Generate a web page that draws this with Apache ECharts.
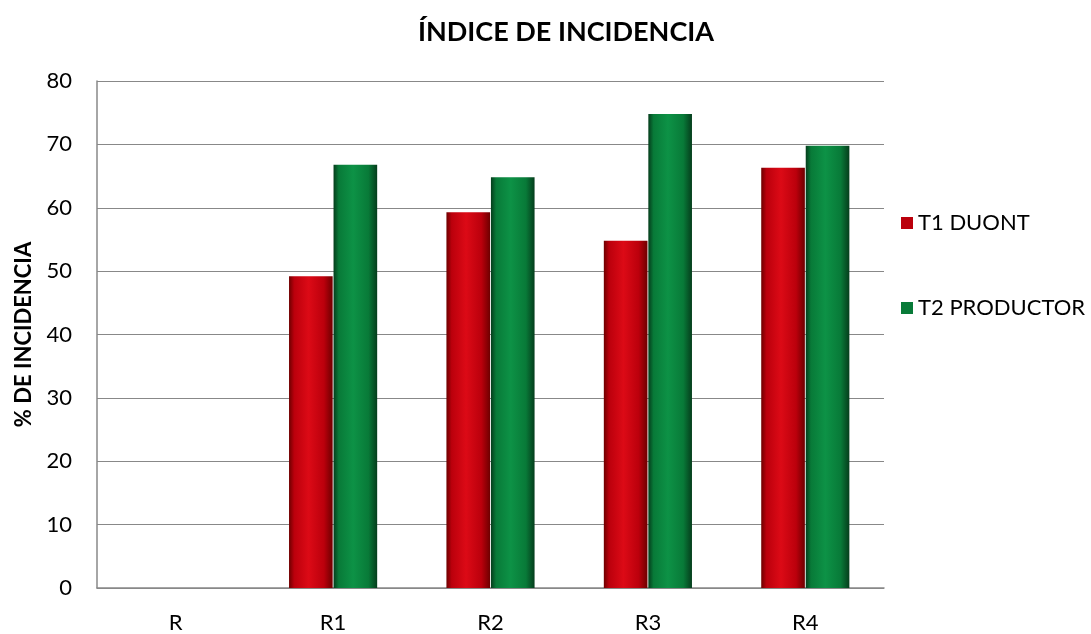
<!DOCTYPE html>
<html>
<head>
<meta charset="utf-8">
<script src="https://cdn.jsdelivr.net/npm/echarts@6/dist/echarts.min.js"></script>
<style>
  html, body { margin: 0; padding: 0; background: #fff; }
  #chart { width: 1091px; height: 634px; }
</style>
</head>
<body>
<div id="chart"></div>
<script>
// datos
const categorias = ["R", "R1", "R2", "R3", "R4"];
const t1Duont = [0, 49.2, 59.3, 54.8, 66.3];
const t2Productor = [0, 66.8, 64.8, 74.8, 69.8];
const yTicks = { min: 0, max: 80, step: 10 };

const fuente = "Lato, 'Open Sans', sans-serif";

// degradado horizontal para imitar el relieve de las barras
function relieve(oscuro, medio, claro) {
  return new echarts.graphic.LinearGradient(0, 0, 1, 0, [
    { offset: 0, color: oscuro },
    { offset: 0.12, color: medio },
    { offset: 0.45, color: claro },
    { offset: 0.8, color: medio },
    { offset: 1, color: oscuro }
  ]);
}

const rojo = relieve("#6e0000", "#bb000c", "#dc0a16");
const verde = relieve("#053d1c", "#087a38", "#0d9246");

const myChart = echarts.init(document.getElementById("chart"));

const option = {
  animation: false,
  title: {
    text: "ÍNDICE DE INCIDENCIA",
    left: 561,
    top: 14,
    textAlign: "center",
    textStyle: { fontFamily: fuente, fontSize: 27, fontWeight: "bold", color: "#000" }
  },
  grid: { left: 97, right: 207, top: 81, bottom: 44 },
  legend: {
    orient: "vertical",
    left: 896,
    top: 207,
    itemWidth: 12,
    itemHeight: 12,
    itemGap: 63,
    icon: "rect",
    textStyle: { fontFamily: fuente, fontSize: 22, color: "#000" },
    data: [
      { name: "T1 DUONT", itemStyle: { color: "#bb000c" } },
      { name: "T2 PRODUCTOR", itemStyle: { color: "#087a38" } }
    ]
  },
  xAxis: {
    type: "category",
    data: categorias,
    axisTick: { show: false },
    axisLine: { lineStyle: { color: "#888", width: 1.5 } },
    axisLabel: { fontFamily: fuente, fontSize: 22, color: "#000", margin: 24 }
  },
  yAxis: {
    type: "value",
    min: yTicks.min,
    max: yTicks.max,
    interval: yTicks.step,
    name: "% DE INCIDENCIA",
    nameLocation: "middle",
    nameGap: 62,
    nameTextStyle: { fontFamily: fuente, fontSize: 22, fontWeight: "bold", color: "#000" },
    axisLine: { show: true, lineStyle: { color: "#888", width: 1.5 } },
    axisTick: { show: false },
    splitLine: { lineStyle: { color: "#888", width: 1.2 } },
    axisLabel: { fontFamily: fuente, fontSize: 22, color: "#000", margin: 25 }
  },
  series: [
    {
      name: "T1 DUONT",
      type: "bar",
      data: t1Duont,
      barGap: "2%",
      barCategoryGap: "44%",
      itemStyle: { color: rojo }
    },
    {
      name: "T2 PRODUCTOR",
      type: "bar",
      data: t2Productor,
      barGap: "2%",
      barCategoryGap: "44%",
      itemStyle: { color: verde }
    }
  ]
};

myChart.setOption(option);
</script>
</body>
</html>
